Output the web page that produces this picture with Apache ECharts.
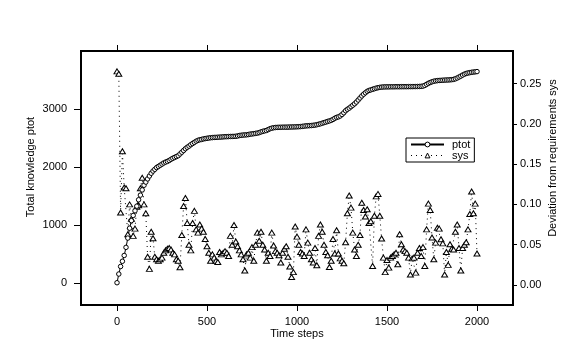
<!DOCTYPE html>
<html>
<head>
<meta charset="utf-8">
<script src="https://cdn.jsdelivr.net/npm/echarts@6/dist/echarts.min.js"></script>
<style>
html,body{margin:0;padding:0;background:#fff;}
#chart{width:580px;height:356px;}
</style>
</head>
<body>
<div id="chart"></div>
<script>
// Time steps (x values)
var steps = [
0,10,20,30,40,50,60,70,80,90,100,110,120,130,140,150,160,170,180,190,
200,210,220,230,240,250,260,270,280,290,300,310,320,330,340,350,360,370,380,390,
400,410,420,430,440,450,460,470,480,490,500,510,520,530,540,550,560,570,580,590,
600,610,620,630,640,650,660,670,680,690,700,710,720,730,740,750,760,770,780,790,
800,810,820,830,840,850,860,870,880,890,900,910,920,930,940,950,960,970,980,990,
1000,1010,1020,1030,1040,1050,1060,1070,1080,1090,1100,1110,1120,1130,1140,1150,1160,1170,1180,1190,
1200,1210,1220,1230,1240,1250,1260,1270,1280,1290,1300,1310,1320,1330,1340,1350,1360,1370,1380,1390,
1400,1410,1420,1430,1440,1450,1460,1470,1480,1490,1500,1510,1520,1530,1540,1550,1560,1570,1580,1590,
1600,1610,1620,1630,1640,1650,1660,1670,1680,1690,1700,1710,1720,1730,1740,1750,1760,1770,1780,1790,
1800,1810,1820,1830,1840,1850,1860,1870,1880,1890,1900,1910,1920,1930,1940,1950,1960,1970,1980,1990,
2000
];

// Total knowledge ptot (left axis)
var ptot = [
10,160,290,380,480,620,780,950,1080,1170,1250,1330,1440,1520,1610,1690,1745,1800,1850,1897,
1935,1965,1995,2015,2035,2055,2075,2090,2102,2118,2138,2155,2170,2185,2200,2230,2260,2290,2320,2345,
2365,2390,2410,2430,2450,2465,2475,2480,2490,2495,2500,2505,2510,2512,2515,2516,2518,2520,2522,2525,
2527,2528,2530,2531,2532,2533,2535,2540,2548,2552,2556,2558,2560,2565,2572,2575,2580,2585,2590,2598,
2610,2620,2628,2635,2650,2665,2675,2682,2686,2688,2690,2690,2691,2692,2692,2693,2694,2695,2696,2697,
2698,2700,2702,2706,2710,2714,2716,2718,2720,2724,2728,2734,2742,2750,2760,2770,2780,2790,2800,2810,
2825,2845,2860,2870,2885,2910,2940,2975,3000,3020,3045,3070,3095,3125,3160,3195,3230,3260,3285,3310,
3325,3335,3345,3355,3365,3372,3378,3382,3385,3386,3387,3387,3388,3388,3388,3389,3389,3389,3390,3390,
3390,3390,3391,3391,3391,3392,3392,3393,3394,3396,3400,3412,3430,3448,3462,3474,3484,3490,3494,3497,
3499,3501,3503,3505,3506,3508,3511,3516,3526,3540,3556,3572,3590,3606,3618,3626,3632,3638,3642,3646,
3650
];

// Deviation from requirements sys (right axis)
var sys = [
0.265,0.262,0.090,0.166,0.121,0.120,0.063,0.100,0.082,0.061,0.070,0.097,0.099,0.120,0.133,0.100,0.089,0.035,0.020,0.066,
0.058,0.035,0.032,0.030,0.032,0.034,0.040,0.043,0.045,0.046,0.044,0.040,0.038,0.032,0.030,0.022,0.062,0.098,0.108,0.077,
0.050,0.043,0.077,0.092,0.069,0.065,0.075,0.070,0.066,0.057,0.048,0.040,0.030,0.038,0.034,0.030,0.0285,0.041,0.038,0.040,
0.042,0.040,0.036,0.061,0.050,0.0745,0.054,0.048,0.043,0.038,0.032,0.018,0.038,0.040,0.034,0.047,0.030,0.050,0.065,0.055,
0.066,0.050,0.044,0.030,0.040,0.036,0.065,0.049,0.042,0.040,0.037,0.028,0.040,0.045,0.048,0.035,0.023,0.010,0.016,0.0725,
0.060,0.050,0.041,0.039,0.036,0.069,0.0526,0.040,0.032,0.028,0.046,0.0245,0.061,0.075,0.066,0.050,0.041,0.037,0.0224,0.030,
0.057,0.039,0.068,0.039,0.033,0.030,0.027,0.053,0.089,0.111,0.096,0.065,0.044,0.036,0.050,0.062,0.102,0.093,0.085,0.094,
0.077,0.079,0.0236,0.086,0.110,0.113,0.086,0.0576,0.034,0.016,0.031,0.0216,0.034,0.036,0.038,0.040,0.0257,0.063,0.0505,0.044,
0.042,0.040,0.034,0.013,0.033,0.034,0.0154,0.040,0.046,0.036,0.047,0.0236,0.069,0.101,0.093,0.059,0.032,0.0526,0.071,0.070,
0.0567,0.0517,0.013,0.041,0.025,0.0505,0.045,0.044,0.066,0.075,0.046,0.018,0.046,0.050,0.053,0.069,0.088,0.116,0.089,0.101,
0.039
];

// Tick labels
var xTicks = [0, 500, 1000, 1500, 2000];
var leftTicks = [0, 1000, 2000, 3000];
var rightTicks = [0, 0.05, 0.10, 0.15, 0.20, 0.25];

var FONT = '"Liberation Sans", Arial, sans-serif';
var chart = echarts.init(document.getElementById('chart'), null, {renderer: 'canvas'});

var ptotData = steps.map(function (t, i) { return [t, ptot[i]]; });
var sysData = steps.map(function (t, i) { return [t, sys[i]]; });

var tickStyle = {color: '#000', width: 1};
var labelStyle = {color: '#000', fontSize: 11, fontFamily: FONT};
var plain = function (v) { return String(v); };
var hollow = {color: '#fff', borderColor: '#000', borderWidth: 1};

chart.setOption({
  animation: false,
  backgroundColor: '#fff',
  grid: {
    left: 81, top: 51, width: 432, height: 254,
    show: true, borderColor: '#000', borderWidth: 2, backgroundColor: 'transparent'
  },
  xAxis: [
    {
      type: 'value', position: 'bottom', min: -200, max: 2200,
      axisLine: {show: false, onZero: false}, splitLine: {show: false},
      axisTick: {show: true, length: 6, lineStyle: tickStyle, customValues: xTicks},
      axisLabel: Object.assign({margin: 11, customValues: xTicks, formatter: plain}, labelStyle)
    },
    {
      type: 'value', position: 'top', min: -200, max: 2200,
      axisLine: {show: false, onZero: false}, splitLine: {show: false},
      axisTick: {show: true, length: 6, lineStyle: tickStyle, customValues: xTicks},
      axisLabel: {show: false}
    }
  ],
  yAxis: [
    {
      type: 'value', position: 'left', min: -374, max: 4005,
      axisLine: {show: false, onZero: false}, splitLine: {show: false},
      axisTick: {show: true, length: 7, lineStyle: tickStyle, customValues: leftTicks},
      axisLabel: Object.assign({margin: 14, customValues: leftTicks, formatter: plain}, labelStyle)
    },
    {
      type: 'value', position: 'right', min: -0.0248, max: 0.2903,
      axisLine: {show: false, onZero: false}, splitLine: {show: false},
      axisTick: {show: true, length: 4, lineStyle: tickStyle, customValues: rightTicks},
      axisLabel: Object.assign({margin: 7, customValues: rightTicks,
        formatter: function (v) { return v.toFixed(2); }}, labelStyle)
    }
  ],
  legend: {
    orient: 'vertical',
    left: 406, top: 138,
    padding: [1, 4, 1, 4],
    itemGap: 0,
    itemWidth: 33, itemHeight: 6,
    borderColor: '#000', borderWidth: 1,
    backgroundColor: '#fff',
    textStyle: {color: '#000', fontSize: 11, fontFamily: FONT, padding: [0, 0, 0, 3]},
    data: [
      {name: 'ptot', lineStyle: {width: 2, color: '#000', type: 'solid'}, itemStyle: hollow},
      {name: 'sys', lineStyle: {width: 1, color: '#000', type: [1, 4]}, itemStyle: hollow}
    ]
  },
  series: [
    {
      name: 'sys', type: 'line', xAxisIndex: 0, yAxisIndex: 1,
      data: sysData,
      symbol: 'triangle', symbolSize: [6, 5], showAllSymbol: true,
      lineStyle: {color: '#000', width: 1, type: [1, 4]},
      itemStyle: hollow,
      emphasis: {disabled: true}
    },
    {
      name: 'ptot', type: 'line', xAxisIndex: 0, yAxisIndex: 0,
      data: ptotData,
      symbol: 'circle', symbolSize: 4.5, showAllSymbol: true,
      lineStyle: {color: '#000', width: 1},
      itemStyle: hollow,
      emphasis: {disabled: true}
    }
  ],
  graphic: [
    {type: 'text', x: 31, y: 167, rotation: Math.PI / 2,
      style: {text: 'Total knowledge ptot', fill: '#000', font: '11px ' + FONT, textAlign: 'center', textVerticalAlign: 'middle'}},
    {type: 'text', x: 553, y: 158, rotation: Math.PI / 2,
      style: {text: 'Deviation from requirements sys', fill: '#000', font: '11px ' + FONT, textAlign: 'center', textVerticalAlign: 'middle'}},
    {type: 'text', x: 297, y: 334,
      style: {text: 'Time steps', fill: '#000', font: '11px ' + FONT, textAlign: 'center', textVerticalAlign: 'middle'}}
  ]
});
</script>
</body>
</html>
